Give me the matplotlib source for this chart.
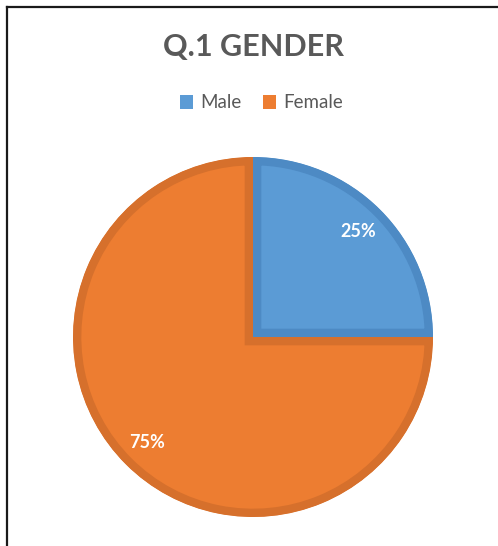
import matplotlib.pyplot as plt
from matplotlib.patches import Patch
from matplotlib.lines import Line2D

labels = ["Male", "Female"]
shares = [25, 75]
fills = ["#5B9BD5", "#ED7D31"]
edges = ["#4D8AC4", "#D6702C"]

W, H = 498, 546
fig = plt.figure(figsize=(W / 100, H / 100), dpi=100)
fig.patch.set_facecolor("white")

# pie area: centre (253, 337) px, radius 180 px
cx, cy, r = 253, 337, 180
ax = fig.add_axes([(cx - r) / W, (H - cy - r) / H, 2 * r / W, 2 * r / H])
wedges, _, autotexts = ax.pie(shares, colors=fills, startangle=90, counterclock=False,
                              autopct="%d%%", pctdistance=0.83, radius=1,
                              wedgeprops=dict(linewidth=12))
for w, ec in zip(wedges, edges):
    w.set_edgecolor(ec)
    w.set_clip_on(True)
    w.set_clip_path(w)
for t in autotexts:
    t.set_color("white")
    t.set_fontweight("bold")
    t.set_fontsize(13)
    t.set_family("Lato")
ax.set_xlim(-1, 1)
ax.set_ylim(-1, 1)
ax.set_aspect("auto")
ax.axis("off")

fig.text(0.51, 1 - 47 / H, "Q.1 GENDER", ha="center", va="center",
         fontsize=22, fontweight="bold", color="#595959", family="Lato")

handles = [Patch(facecolor=c, edgecolor="none") for c in fills]
fig.legend(handles, labels, loc="center", bbox_to_anchor=(0.525, 1 - 103 / H), ncol=2,
           frameon=False, handlelength=0.7, handleheight=0.7, handletextpad=0.4,
           columnspacing=1.1, prop={"family": "Lato", "size": 13.5}, labelcolor="#595959")

# outer frame (top and left only visible)
x0, y0 = 6.5 / W, 1 - 6.5 / H
fig.add_artist(Line2D([x0, x0], [0, y0], transform=fig.transFigure, color="#1a1a1a", lw=1.6))
fig.add_artist(Line2D([x0, 1], [y0, y0], transform=fig.transFigure, color="#1a1a1a", lw=1.6))

fig.savefig("out.png", dpi=100)
